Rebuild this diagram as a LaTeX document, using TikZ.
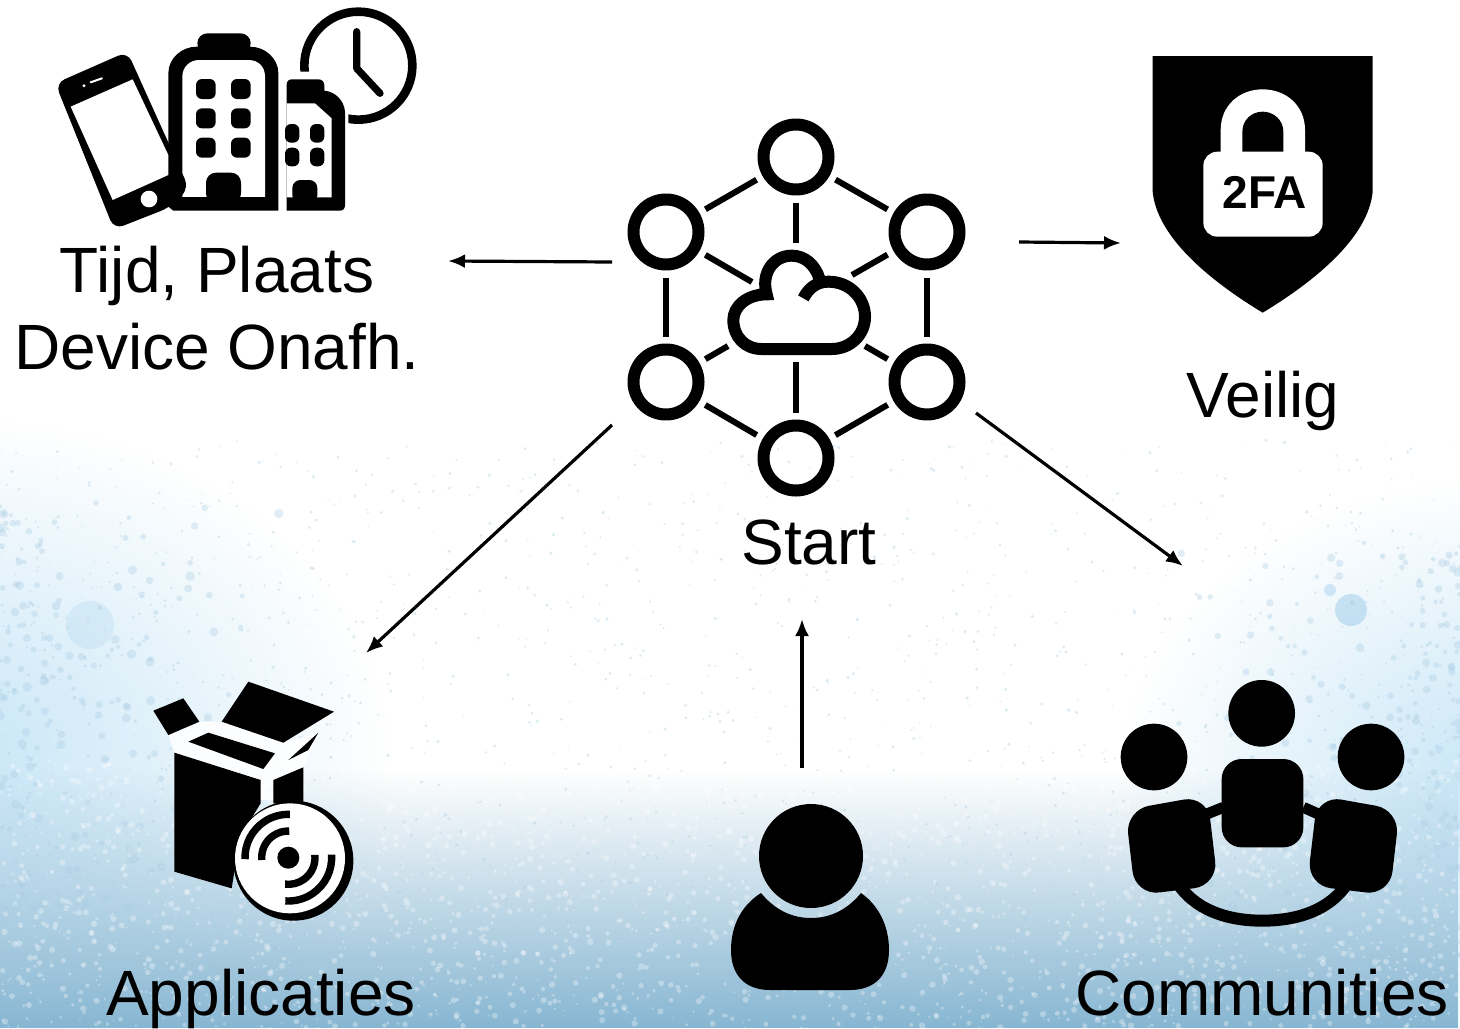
\documentclass[tikz,border=0pt]{standalone}
\usepackage{fontspec}
\setmainfont{Liberation Sans}
\usetikzlibrary{arrows.meta,fadings}
\tikzfading[name=softblob, inner color=transparent!0, outer color=transparent!100]
\tikzfading[name=risewash, top color=transparent!100, middle color=transparent!55, bottom color=transparent!0]
\definecolor{washlow}{RGB}{135,182,210}
\definecolor{washedge}{RGB}{200,230,247}
\definecolor{speck}{RGB}{170,205,228}
\definecolor{spot}{RGB}{120,185,225}

\begin{document}
\begin{tikzpicture}[x=0.5pt,y=-0.5pt,line join=round]
\tikzstyle{arrow} = [line width=1.6pt,-{Latex[length=8.5pt,width=7pt]}]
\tikzstyle{lbl} = [inner sep=0pt,anchor=base,font=\fontsize{32}{38.5}\selectfont]
\tikzstyle{hubring} = [circle,draw=black,line width=6pt,minimum size=32.5pt,inner sep=0pt]
\tikzstyle{hubline} = [line width=3pt,shorten >=3.5pt,shorten <=3.5pt]
\tikzstyle{spoke} = [line width=3pt,shorten <=3.5pt]
\tikzstyle{zoomed} = [x=0.16667pt,y=-0.16667pt]

\useasboundingbox (0,0) rectangle (1460,1028);

% wash
\begin{scope}
\clip (0,0) rectangle (1460,1028);
\fill[white] (0,0) rectangle (1460,1028);
\fill[washedge,path fading=softblob] (-40,760) ellipse (430 and 340);
\fill[washedge,path fading=softblob] (1500,780) ellipse (380 and 300);
\fill[washlow,path fading=risewash] (0,770) rectangle (1460,1028);
\pgfmathsetseed{41}
\foreach \i in {1,...,2600} {
  \pgfmathsetmacro\px{rnd*1460}
  \pgfmathsetmacro\py{760+268*rnd}
  \fill[white,opacity=.32] (\px,\py) circle (1.2pt*rnd+0.4pt);
}
\foreach \i in {1,...,1300} {
  \pgfmathsetmacro\px{rnd*1460}
  \pgfmathsetmacro\py{440+500*rnd}
  \fill[speck,opacity=.4] (\px,\py) circle (0.6pt*rnd+0.3pt);
}
\foreach \i in {1,...,260} {
  \pgfmathsetmacro\px{rnd*rnd*330}
  \pgfmathsetmacro\py{500+420*rnd}
  \fill[speck,opacity=.35] (\px,\py) circle (2pt*rnd+0.4pt);
  \fill[speck,opacity=.35] (1460-\px,\py+40) circle (1.8pt*rnd+0.4pt);
}
\fill[spot,opacity=.35] (1351,610) circle (8pt);
\fill[spot,opacity=.3] (1330,590) circle (3pt);
\fill[spot,opacity=.15] (90,625) circle (12pt);
\end{scope}

% hub
\node (hubN) at (796,157) [hubring] {};
\node (hubNE) at (927,232) [hubring] {};
\node (hubSE) at (927,382) [hubring] {};
\node (hubS) at (796,458) [hubring] {};
\node (hubSW) at (666,382) [hubring] {};
\node (hubNW) at (666,232) [hubring] {};
\coordinate (cloudN) at (796,243);
\coordinate (cloudNE) at (852,275);
\coordinate (cloudSE) at (865,346);
\coordinate (cloudS) at (796,362);
\coordinate (cloudSW) at (728,346);
\coordinate (cloudNW) at (752,282);
\draw[hubline] (hubN) -- (hubNE);
\draw[hubline] (hubNE) -- (hubSE);
\draw[hubline] (hubSE) -- (hubS);
\draw[hubline] (hubS) -- (hubSW);
\draw[hubline] (hubSW) -- (hubNW);
\draw[hubline] (hubNW) -- (hubN);
\draw[spoke] (hubN) -- (cloudN);
\draw[spoke] (hubNE) -- (cloudNE);
\draw[spoke] (hubSE) -- (cloudSE);
\draw[spoke] (hubS) -- (cloudS);
\draw[spoke] (hubSW) -- (cloudSW);
\draw[spoke] (hubNW) -- (cloudNW);
\begin{scope}[shift={(610,110)},zoomed]
\draw[line width=6pt,miter limit=4,line join=miter]
  (580,565) .. controls (595,535) and (620,515) .. (655,515)
  .. controls (720,515) and (765,565) .. (765,620)
  .. controls (765,675) and (720,717) .. (665,717) -- (455,717)
  .. controls (405,717) and (370,680) .. (370,630)
  .. controls (370,590) and (410,553) .. (470,553)
  .. controls (452,490) and (490,437) .. (545,437)
  .. controls (585,437) and (615,465) .. (628,505);
\end{scope}

% clock, buildings, phone
\begin{scope}[shift={(40,0)},zoomed]
\draw[line width=4.3pt] (955,197) circle (162);
\draw[line width=3.6pt,line cap=round] (950,95) -- (950,205) -- (1020,280);
\fill (385,615) -- (385,220) .. controls (385,175) and (425,140) .. (470,140) -- (630,140)
  .. controls (675,140) and (715,175) .. (715,220) -- (715,632) -- (400,632) -- (385,620) -- cycle;
\fill[rounded corners=5pt] (472,160) -- (472,100) -- (632,100) -- (632,160) -- cycle;
\fill[white] (427,592) -- (427,230) .. controls (427,200) and (450,180) .. (478,180) -- (625,180)
  .. controls (655,180) and (675,200) .. (675,230) -- (675,592) -- cycle;
\foreach \wx in {468,573} \foreach \wy in {237,325,413}
  \fill[rounded corners=3pt] (\wx,\wy) rectangle ++(59,60);
\fill[rounded corners=5pt] (498,610) -- (498,518) -- (603,518) -- (603,610) -- cycle;
\fill (427,592) rectangle (675,600);
\fill[white] (734,215) -- (870,215) -- (925,330) -- (925,640) -- (734,640) -- cycle;
\fill (740,632) -- (900,632) .. controls (910,632) and (915,625) .. (915,615) -- (915,335)
  .. controls (912,300) and (885,275) .. (853,272) -- (853,255)
  .. controls (853,245) and (845,238) .. (835,238) -- (755,238)
  .. controls (745,238) and (740,245) .. (740,255) -- cycle;
\fill[white] (740,592) -- (740,310) -- (825,310) -- (875,355) -- (875,592) -- cycle;
\foreach \wx in {735,810} \foreach \wy in {372,443}
  \fill[rounded corners=3pt] (\wx,\wy) rectangle ++(43,56);
\fill[rounded corners=4pt] (757,610) -- (757,540) -- (832,540) -- (832,610) -- cycle;
\fill[rounded corners=5pt] (46,250) -- (262,155) -- (447,565) -- (390,622) -- (222,688) -- cycle;
\fill[white] (92,320) -- (278,238) -- (385,465) -- (385,525) -- (218,600) -- cycle;
\fill[white] (327,597) circle (25);
\fill[white] (132,257) circle (5);
\draw[white,line width=1pt,line cap=round] (152,247) -- (186,235);
\end{scope}
\node (tijd) at (217,308) [lbl,anchor=center,align=center] {Tijd, Plaats\\Device Onafh.};

% shield
\begin{scope}[shift={(1130,40)},zoomed]
\fill (68,48) -- (728,48) -- (728,455) .. controls (715,590) and (560,720) .. (398,818)
  .. controls (236,720) and (81,590) .. (68,455) -- cycle;
\fill[white] (272,345) -- (272,270) .. controls (272,195) and (330,148) .. (398,148)
  .. controls (466,148) and (525,195) .. (525,270) -- (525,345) -- cycle;
\fill (337,340) -- (337,275) .. controls (337,240) and (365,215) .. (398,215)
  .. controls (431,215) and (460,240) .. (460,275) -- (460,340) -- cycle;
\fill[white,rounded corners=7pt] (220,335) rectangle (578,590);
\node (lock) at (405,458) [inner sep=0pt,font=\fontsize{23}{23}\selectfont\bfseries] {2FA};
\end{scope}
\node (veilig) at (1263,417) [lbl] {Veilig};
\node (start) at (809,564) [lbl] {Start};

% box and disc
\begin{scope}[shift={(140,670)},zoomed]
\fill[white,opacity=.85] (85,195) -- (178,155) -- (245,155) -- (430,218) -- (535,188) -- (490,292) -- (400,330) -- (400,390) -- (362,390) -- (362,330) -- (103,248) -- cycle;
\fill (40,122) -- (130,85) -- (178,155) -- (85,195) -- cycle;
\fill (325,35) -- (582,125) -- (430,218) -- (245,155) -- cycle;
\fill (145,215) -- (205,188) -- (405,250) -- (370,297) -- cycle;
\fill (445,270) -- (535,188) -- (505,240) -- cycle;
\fill (103,248) -- (362,330) -- (362,400) -- (300,500) -- (275,655) -- (103,605) -- cycle;
\fill (400,330) -- (490,292) -- (490,400) -- (400,400) -- cycle;
\fill (460,572) circle (180);
\fill[white] (450,565) circle (165);
\fill (445,563) circle (33);
\draw[line width=3.7pt] (445,563) ++(178:130) arc (178:272:130);
\draw[line width=3.7pt] (445,563) ++(175:80) arc (175:272:80);
\draw[line width=3.7pt] (445,563) ++(-6:80) arc (-6:97:80);
\draw[line width=3.7pt] (445,563) ++(-4:130) arc (-4:94:130);
\end{scope}
\node (apps) at (261,1015) [lbl] {Applicaties};

% person
\fill (811,856) circle (52);
\fill (761,893) .. controls (775,910) and (792,918) .. (811,918)
  .. controls (830,918) and (847,910) .. (861,893)
  .. controls (878,905) and (889,925) .. (889,950)
  .. controls (889,975) and (875,990) .. (850,990) -- (770,990)
  .. controls (745,990) and (731,975) .. (731,950)
  .. controls (731,925) and (742,905) .. (761,893) -- cycle;

% people round a table
\begin{scope}[shift={(1100,670)},zoomed]
\fill (162,261) circle (100);
\fill (485,130) circle (100);
\fill (813,261) circle (100);
\fill[rounded corners=10pt] (365,267) rectangle (610,532);
\fill[rounded corners=12pt] (76,420) -- (322,376) -- (354,646) -- (106,676) -- cycle;
\fill[rounded corners=12pt] (899,420) -- (653,376) -- (621,646) -- (869,676) -- cycle;
\draw[line width=5.5pt] (320,432) -- (370,412);
\draw[line width=5.5pt] (610,412) -- (655,432);
\draw[line width=6pt] (240,650) .. controls (300,730) and (400,752) .. (487,752)
  .. controls (575,752) and (675,730) .. (735,650);
\end{scope}
\node (comm) at (1262,1015) [lbl] {Communities};

% arrows
\coordinate (hubW) at (612,262);
\coordinate (tijdE) at (448,261);
\coordinate (hubE) at (1019,242);
\coordinate (shieldW) at (1121,243);
\coordinate (hubLL) at (612,425);
\coordinate (appsN) at (366,653);
\coordinate (hubLR) at (976,413);
\coordinate (commN) at (1183,566);
\coordinate (personN) at (802,768);
\coordinate (startS) at (802,619);
\draw[arrow] (hubW) -- (tijdE);
\draw[arrow] (hubE) -- (shieldW);
\draw[arrow] (hubLL) -- (appsN);
\draw[arrow] (hubLR) -- (commN);
\draw[arrow] (personN) -- (startS);

\end{tikzpicture}
\end{document}
